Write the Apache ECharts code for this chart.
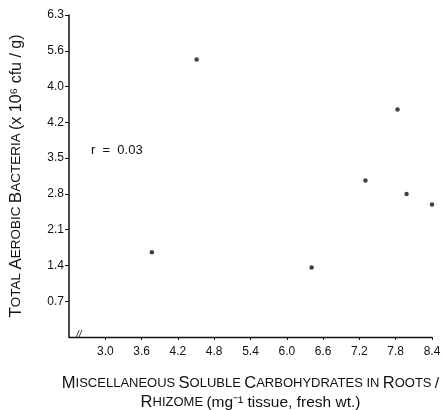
<!DOCTYPE html>
<html><head><meta charset="utf-8">
<script src="https://cdn.jsdelivr.net/npm/echarts@6/dist/echarts.min.js"></script>
<style>html,body{margin:0;padding:0;background:#fff}#c{width:443px;height:410px}</style>
</head><body><div id="c"></div>
<script>
var carbohydrates = [3.77, 4.51, 6.41, 7.83, 7.30, 7.98, 8.40];
var bacteria = [1.66, 5.43, 1.36, 4.45, 3.06, 2.80, 2.59];
var xTickValues = [3.0, 3.6, 4.2, 4.8, 5.4, 6.0, 6.6, 7.2, 7.8, 8.4];
var xTickLabels = ['3.0', '3.6', '4.2', '4.8', '5.4', '6.0', '6.6', '7.2', '7.8', '8.4'];
var yTickValues = [0.7, 1.4, 2.1, 2.8, 3.5, 4.2, 4.9, 5.6, 6.3];
var yTickLabels = ['0.7', '1.4', '2.1', '2.8', '3.5', '4.2', '4.0', '5.6', '6.3'];
var correlationText = 'r  =  0.03';

var pts = carbohydrates.map(function (x, i) { return [x, bacteria[i]]; });
var font = 'Liberation Sans, Arial, sans-serif';
function lbl(vals, labs) {
  return function (v) {
    for (var i = 0; i < vals.length; i++) if (Math.abs(vals[i] - v) < 1e-6) return labs[i];
    return '';
  };
}
var chart = echarts.init(document.getElementById('c'));
chart.setOption({
  animation: false,
  backgroundColor: '#fff',
  grid: { left: 69, right: 11, top: 15, bottom: 73, containLabel: false, outerBoundsMode: 'none' },
  xAxis: {
    type: 'value', min: 2.4, max: 8.4, interval: 0.6,
    splitLine: { show: false },
    axisLine: { lineStyle: { color: '#111', width: 1.3 } },
    axisTick: { length: 3, customValues: xTickValues, lineStyle: { color: '#111' } },
    axisLabel: { customValues: xTickValues, formatter: lbl(xTickValues, xTickLabels), color: '#111', fontSize: 12, fontFamily: font, margin: 9 },
    name: '{b|M}{s|ISCELLANEOUS} {b|S}{s|OLUBLE} {b|C}{s|ARBOHYDRATES IN} {b|R}{s|OOTS} {n|/}\n{b|R}{s|HIZOME} {n|(mg⁻¹ tissue, fresh wt.)}',
    nameLocation: 'middle', nameGap: 37,
    nameTextStyle: {
      color: '#111', fontFamily: font, lineHeight: 19,
      rich: {
        b: { fontSize: 16.5, fontFamily: font, color: '#111', lineHeight: 19 },
        s: { fontSize: 13, fontFamily: font, color: '#111', lineHeight: 19 },
        n: { fontSize: 15.5, fontFamily: font, color: '#111', lineHeight: 19 }
      }
    }
  },
  yAxis: {
    type: 'value', min: 0, max: 6.3, interval: 0.7,
    splitLine: { show: false },
    axisLine: { show: true, lineStyle: { color: '#111', width: 1.5 } },
    axisTick: { show: true, length: 4, customValues: yTickValues, lineStyle: { color: '#111' } },
    axisLabel: { customValues: yTickValues, formatter: lbl(yTickValues, yTickLabels), color: '#111', fontSize: 12, fontFamily: font, margin: 5 },
    name: '{b|T}{s|OTAL} {b|A}{s|EROBIC} {b|B}{s|ACTERIA} {n|(x 10⁶ cfu / g)}',
    nameLocation: 'middle', nameGap: 44, nameRotate: 90,
    nameTextStyle: {
      color: '#111', fontFamily: font,
      rich: {
        b: { fontSize: 17, fontFamily: font, color: '#111' },
        s: { fontSize: 13.5, fontFamily: font, color: '#111' },
        n: { fontSize: 16, fontFamily: font, color: '#111' }
      }
    }
  },
  series: [{
    type: 'scatter', data: pts, symbol: 'circle', symbolSize: 4.5,
    itemStyle: { color: '#111' }
  }],
  graphic: [
    { type: 'text', left: 91, top: 144, style: { text: correlationText, fontSize: 13, fontFamily: font, fill: '#111' } },
    { type: 'text', left: 76, top: 330, style: { text: '//', fontSize: 10, fontFamily: font, fill: '#111', fontStyle: 'italic' } }
  ]
});
</script></body></html>
